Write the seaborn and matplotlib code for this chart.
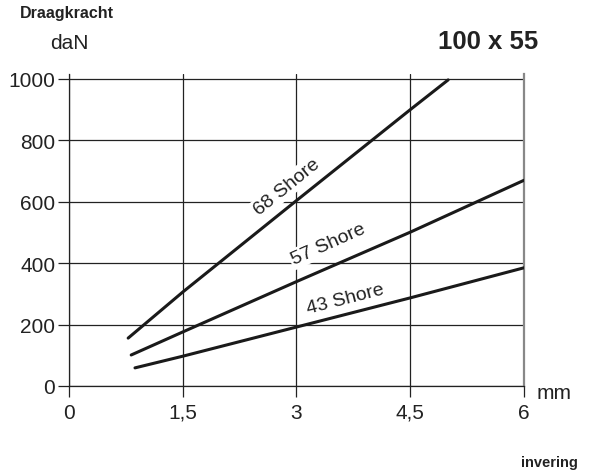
import matplotlib
matplotlib.use("Agg")
import matplotlib.pyplot as plt
import seaborn as sns
import pandas as pd

# data
x68 = [0.78, 1.5, 3.0, 4.5, 5.0]
y68 = [156, 306, 604, 900, 997]
x57 = [0.82, 1.5, 3.0, 4.5, 6.0]
y57 = [101, 176, 340, 501, 670]
x43 = [0.87, 1.5, 3.0, 4.5, 6.0]
y43 = [59, 97, 192, 287, 385]
series = ["68 Shore", "57 Shore", "43 Shore"]
xticks = [0, 1.5, 3, 4.5, 6]
xticklabels = ["0", "1,5", "3", "4,5", "6"]
yticks = [0, 200, 400, 600, 800, 1000]

df = pd.concat([
    pd.DataFrame({"x": x68, "y": y68, "s": series[0]}),
    pd.DataFrame({"x": x57, "y": y57, "s": series[1]}),
    pd.DataFrame({"x": x43, "y": y43, "s": series[2]}),
])

sns.set_style("white")
plt.rcParams["font.family"] = ["Liberation Sans", "DejaVu Sans"]

fig = plt.figure(figsize=(5.93, 4.77), dpi=100)
ax = fig.add_axes([0.1164, 0.1887, 0.7672, 0.6533])

sns.lineplot(data=df, x="x", y="y", hue="s", palette=["#1a1a1a"] * 3,
             legend=False, linewidth=2.2, ax=ax, zorder=5)

ax.set_xlim(0, 6)
ax.set_ylim(0, 1015)
ax.set_xticks(xticks)
ax.set_xticklabels(xticklabels)
ax.set_yticks(yticks)
ax.set_xlabel("")
ax.set_ylabel("")
ax.grid(True, color="#222222", linewidth=0.9)
ax.set_axisbelow(True)
ax.spines["top"].set_visible(False)
for side in ["left", "bottom"]:
    ax.spines[side].set_color("#222222")
    ax.spines[side].set_linewidth(0.9)
ax.spines["right"].set_color("#888888")
ax.spines["right"].set_linewidth(1.6)
ax.tick_params(axis="both", direction="out", length=8, width=0.9,
               color="#222222", labelsize=15, labelcolor="#222222", pad=2)
ax.tick_params(axis="x", pad=4)
ax.tick_params(left=True, bottom=True)

bb = dict(boxstyle="square,pad=0.1", fc="white", ec="none")
ax.text(2.88, 651, "68 Shore", rotation=39, ha="center", va="center",
        fontsize=14, color="#222222", bbox=bb, zorder=4)
ax.text(3.42, 462, "57 Shore", rotation=24, ha="center", va="center",
        fontsize=14, color="#222222", bbox=bb, zorder=4)
ax.text(3.64, 283, "43 Shore", rotation=14.5, ha="center", va="center",
        fontsize=14, color="#222222", bbox=bb, zorder=4)

fig.text(0.034, 0.971, "Draagkracht", fontsize=11.5, fontweight="bold",
         ha="left", va="center", color="#222222")
fig.text(0.084, 0.908, "daN", fontsize=15, ha="left", va="center",
         color="#222222")
fig.text(0.907, 0.912, "100 x 55", fontsize=18.5, fontweight="bold",
         ha="right", va="center", color="#222222")
fig.text(0.905, 0.176, "mm", fontsize=15, ha="left", va="center",
         color="#222222")
fig.text(0.975, 0.029, "invering", fontsize=10.5, fontweight="bold",
         ha="right", va="center", color="#222222")

fig.savefig("out.png", dpi=100)
